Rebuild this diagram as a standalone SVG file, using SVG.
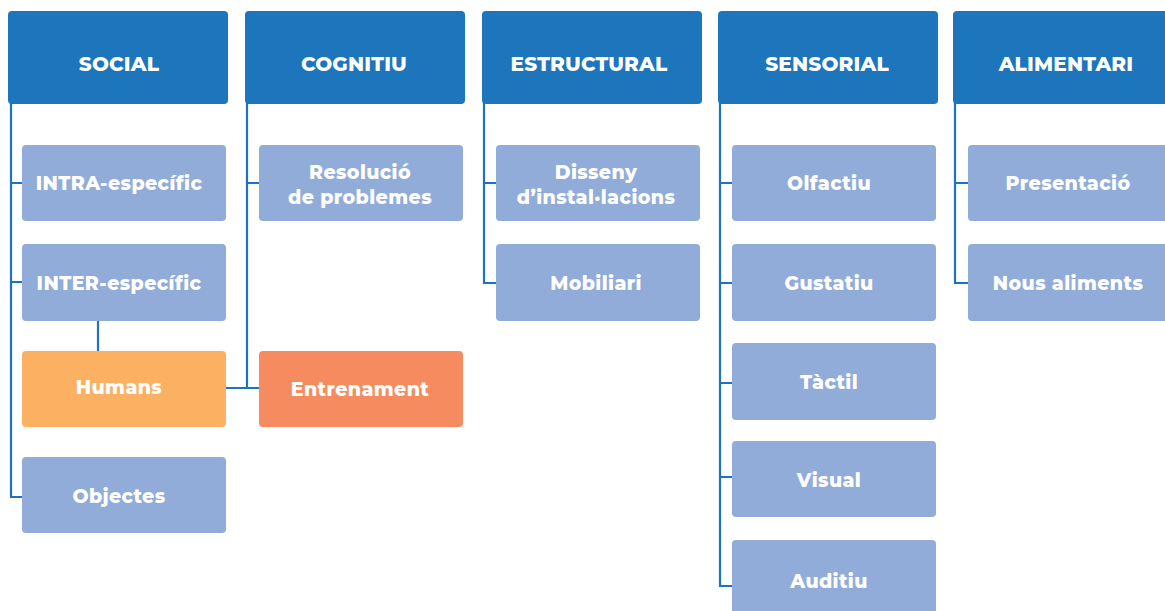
<svg xmlns="http://www.w3.org/2000/svg" width="1165" height="611" viewBox="0 0 1165 611">
<style>
.hd{fill:#1D75BC}
.ch{fill:#91ACD9}
.hum{fill:#FBB062}
.ent{fill:#F58B5E}
text{font-family:Montserrat,Inter,"Open Sans","Liberation Sans",sans-serif;font-weight:800;fill:#fff;text-anchor:middle}
.ht{font-size:20px;letter-spacing:0.2px}
.ct{font-size:19px;letter-spacing:0.4px}
.ln{stroke:#1C75BC;stroke-width:2.2;fill:none}
</style>
<rect width="1165" height="611" fill="#fff"/>
<g id="connectors">
<path class="ln" d="M11 100V497H23M11 183H23M11 282H23"/>
<path class="ln" d="M98 321V351"/>
<path class="ln" d="M247 100V388M247 183H259M226 388H259"/>
<path class="ln" d="M484 100V283H497M484 183H497"/>
<path class="ln" d="M720 100V586H733M720 183H733M720 283H733M720 383H733M720 477H733"/>
<path class="ln" d="M955 100V283H969M955 183H969"/>
</g>
<g id="social"><rect class="hd" x="8" y="11" width="220" height="93" rx="4"/><text class="ht" x="119" y="71">SOCIAL</text></g>
<g id="cognitiu"><rect class="hd" x="245" y="11" width="220" height="93" rx="4"/><text class="ht" x="354" y="71">COGNITIU</text></g>
<g id="estructural"><rect class="hd" x="482" y="11" width="220" height="93" rx="4"/><text class="ht" x="589" y="71">ESTRUCTURAL</text></g>
<g id="sensorial"><rect class="hd" x="718" y="11" width="220" height="93" rx="4"/><text class="ht" x="827" y="71">SENSORIAL</text></g>
<g id="alimentari"><rect class="hd" x="953" y="11" width="225" height="93" rx="4"/><text class="ht" x="1066" y="71">ALIMENTARI</text></g>

<g id="intra"><rect class="ch" x="22" y="145" width="204" height="76" rx="4"/><text class="ct" x="119" y="190">INTRA-específic</text></g>
<g id="inter"><rect class="ch" x="22" y="244" width="204" height="77" rx="4"/><text class="ct" x="119" y="290">INTER-específic</text></g>
<g id="humans"><rect class="hum" x="22" y="351" width="204" height="76" rx="4"/><text class="ct" x="119" y="394">Humans</text></g>
<g id="objectes"><rect class="ch" x="22" y="457" width="204" height="76" rx="4"/><text class="ct" x="119" y="503">Objectes</text></g>

<g id="resolucio"><rect class="ch" x="259" y="145" width="204" height="76" rx="4"/><text class="ct" x="360" y="179">Resolució</text><text class="ct" x="360" y="204">de problemes</text></g>
<g id="entrenament"><rect class="ent" x="259" y="351" width="204" height="76" rx="4"/><text class="ct" x="360" y="396">Entrenament</text></g>

<g id="disseny"><rect class="ch" x="496" y="145" width="204" height="76" rx="4"/><text class="ct" x="596" y="179">Disseny</text><text class="ct" x="596" y="204">d’instal·lacions</text></g>
<g id="mobiliari"><rect class="ch" x="496" y="244" width="204" height="77" rx="4"/><text class="ct" x="596" y="290">Mobiliari</text></g>

<g id="olfactiu"><rect class="ch" x="732" y="145" width="204" height="76" rx="4"/><text class="ct" x="829" y="190">Olfactiu</text></g>
<g id="gustatiu"><rect class="ch" x="732" y="244" width="204" height="77" rx="4"/><text class="ct" x="829" y="290">Gustatiu</text></g>
<g id="tactil"><rect class="ch" x="732" y="343" width="204" height="77" rx="4"/><text class="ct" x="829" y="389">Tàctil</text></g>
<g id="visual"><rect class="ch" x="732" y="441" width="204" height="76" rx="4"/><text class="ct" x="829" y="487">Visual</text></g>
<g id="auditiu"><rect class="ch" x="732" y="540" width="204" height="80" rx="4"/><text class="ct" x="829" y="588">Auditiu</text></g>

<g id="presentacio"><rect class="ch" x="968" y="145" width="210" height="76" rx="4"/><text class="ct" x="1068" y="190">Presentació</text></g>
<g id="nous"><rect class="ch" x="968" y="244" width="210" height="77" rx="4"/><text class="ct" x="1068" y="290">Nous aliments</text></g>
</svg>
